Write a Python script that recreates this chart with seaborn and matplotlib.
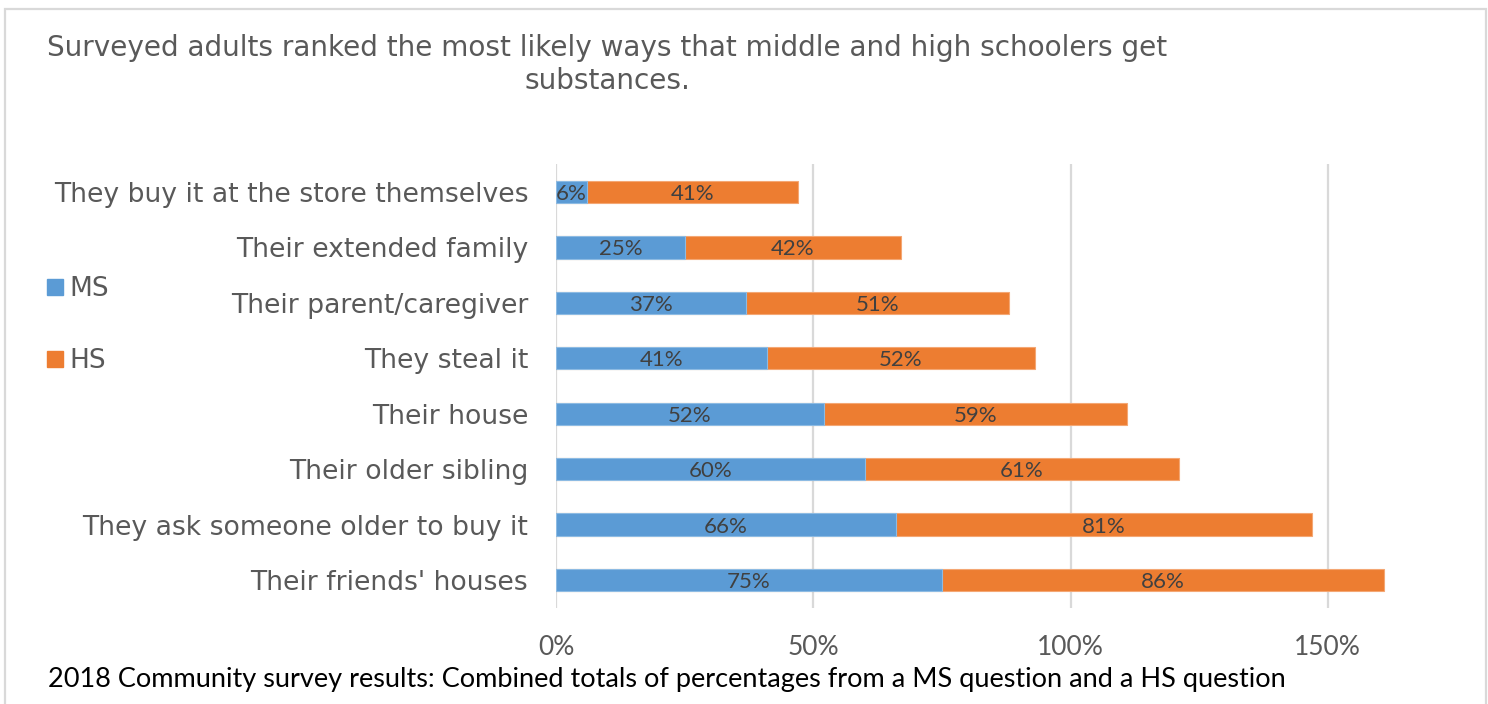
import matplotlib
matplotlib.use("Agg")
import matplotlib.pyplot as plt
from matplotlib.lines import Line2D
from matplotlib.patches import Rectangle
import pandas as pd
import seaborn as sns

# Data
categories = [
    "They buy it at the store themselves",
    "Their extended family",
    "Their parent/caregiver",
    "They steal it",
    "Their house",
    "Their older sibling",
    "They ask someone older to buy it",
    "Their friends' houses",
]
ms_values = [6, 25, 37, 41, 52, 60, 66, 75]
hs_values = [41, 42, 51, 52, 59, 61, 81, 86]
series_names = ["MS", "HS"]
x_ticks = [0, 50, 100, 150]
x_tick_labels = ["0%", "50%", "100%", "150%"]
title_lines = [
    "Surveyed adults ranked the most likely ways that middle and high schoolers get",
    "substances.",
]
footnote = "2018 Community survey results: Combined totals of percentages from a MS question and a HS question"

MS_COLOR = "#5b9bd5"
HS_COLOR = "#ed7d31"
GRAY = "#595959"
GRID = "#d9d9d9"

sns.set_theme(style="white")
plt.rcParams["font.family"] = ["DejaVu Sans"]

df = pd.DataFrame({"category": categories, "MS": ms_values, "HS": hs_values})
df["total"] = df["MS"] + df["HS"]

W, H = 1488, 704
fig = plt.figure(figsize=(W / 100, H / 100), dpi=100)
ax = fig.add_axes([556 / W, 1 - 607.7 / H, (1405 - 556) / W, (607.7 - 164.3) / H])

# Stacked bars: full total in orange, MS segment drawn on top in blue
sns.barplot(data=df, y="category", x="total", order=categories, color=HS_COLOR,
            saturation=1, width=0.4, errorbar=None, ax=ax,
            edgecolor="#f4a774", linewidth=0.8)
sns.barplot(data=df, y="category", x="MS", order=categories, color=MS_COLOR,
            saturation=1, width=0.4, errorbar=None, ax=ax,
            edgecolor="#8dbbe3", linewidth=0.8)

# Segment value labels
for i, (m, h) in enumerate(zip(df["MS"], df["HS"])):
    ax.text(m / 2, i + 0.035, f"{m}%", ha="center", va="center", fontsize=16,
            color="#404040", family="Lato")
    ax.text(m + h / 2, i + 0.035, f"{h}%", ha="center", va="center", fontsize=16,
            color="#404040", family="Lato")

ax.set_xlim(0, 165)
ax.set_xticks(x_ticks)
ax.set_xticklabels(x_tick_labels, fontsize=19, color=GRAY, family="Lato")
ax.set_xlabel("")
ax.set_ylabel("")
ax.tick_params(axis="y", length=0, pad=20, labelsize=19.2, labelcolor=GRAY)
ax.tick_params(axis="x", length=0, pad=20)
ax.xaxis.grid(True, color=GRID, linewidth=1.6)
ax.yaxis.grid(False)
ax.set_axisbelow(True)
for s in ax.spines.values():
    s.set_visible(False)

# Legend on the left
handles = [
    Line2D([], [], marker="s", linestyle="", markersize=11, color=MS_COLOR),
    Line2D([], [], marker="s", linestyle="", markersize=11, color=HS_COLOR),
]
fig.legend(handles, series_names, loc="upper left", bbox_to_anchor=(46 / W, 1 - 276 / H),
           frameon=False, fontsize=19, labelcolor=GRAY, handlelength=0.65,
           handletextpad=0.25, labelspacing=1.75, borderpad=0, borderaxespad=0)

# Title (two centred lines)
fig.text(607 / W, 1 - 48 / H, title_lines[0], ha="center", va="center",
         fontsize=20.1, color=GRAY)
fig.text(607 / W, 1 - 81 / H, title_lines[1], ha="center", va="center",
         fontsize=20.1, color=GRAY)

# Footnote
fig.text(48 / W, 1 - 680 / H, footnote, ha="left", va="center",
         fontsize=19.5, color="black", family="Lato")

# Chart border
fig.add_artist(Rectangle((4.5 / W, -0.1), 1481 / W, 1.1 - 9 / H,
                         transform=fig.transFigure, fill=False,
                         edgecolor=GRID, linewidth=1.6))

fig.savefig("out.png", dpi=100)
